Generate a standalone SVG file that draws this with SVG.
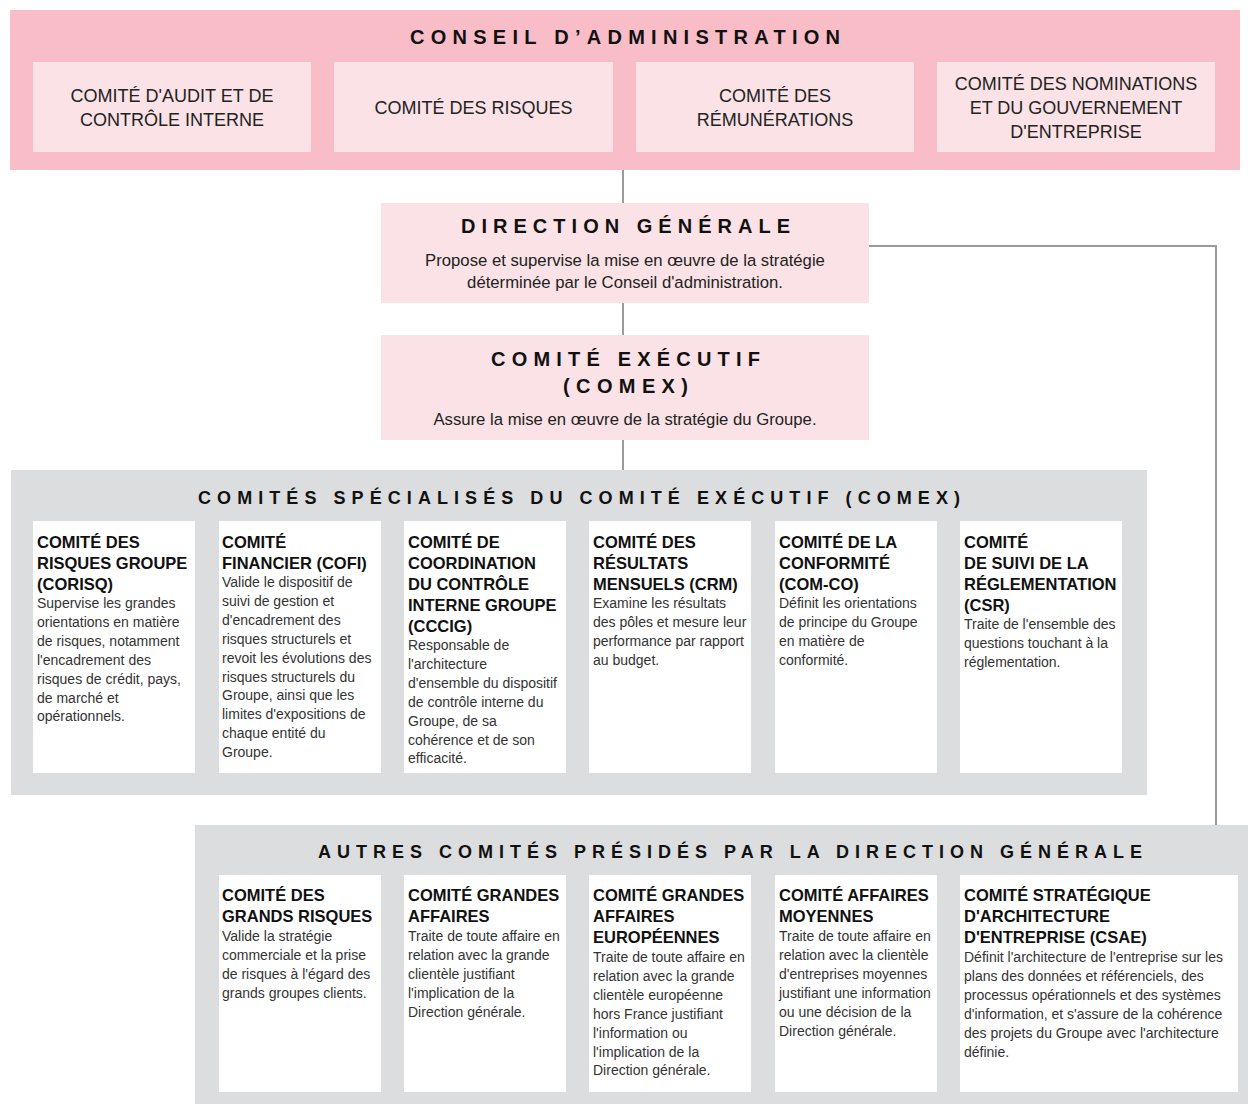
<svg xmlns="http://www.w3.org/2000/svg" width="1248" height="1104" viewBox="0 0 1248 1104">
<style>
text{font-family:"Liberation Sans",Arial,sans-serif;}
.band{fill:#F9BDC8;}
.sub{fill:#FAE2E6;}
.grey{fill:#DCDDDF;}
.card{fill:#FFFFFF;}
.big{font-size:20px;font-weight:bold;fill:#111;}
.sec{font-size:18px;font-weight:bold;fill:#111;}
.top{font-size:18px;fill:#222;text-anchor:middle;}
.desc{font-size:16.7px;fill:#222;text-anchor:middle;}
.ct{font-size:16.5px;font-weight:bold;fill:#111;}
.cb{font-size:14px;fill:#333;}
.conn{stroke:#9B9B9B;stroke-width:2;fill:none;}
</style>
<rect width="1248" height="1104" fill="#FFFFFF"/>

<g id="connectors">
<line class="conn" x1="623" y1="170" x2="623" y2="204"/>
<line class="conn" x1="623" y1="302" x2="623" y2="336"/>
<line class="conn" x1="623" y1="439" x2="623" y2="471"/>
<polyline class="conn" points="869,246 1216,246 1216,826"/>
</g>

<g id="conseil">
<rect class="band" x="10" y="10" width="1230" height="160"/>
<text class="big" x="410" y="44" textLength="430" lengthAdjust="spacing">CONSEIL D’ADMINISTRATION</text>
</g>
<g id="comite-audit">
<rect class="sub" x="33" y="62" width="278" height="90"/>
<text class="top" x="172" y="102">COMITÉ D'AUDIT ET DE<tspan x="172" dy="24">CONTRÔLE INTERNE</tspan></text>
</g>
<g id="comite-risques">
<rect class="sub" x="334" y="62" width="279" height="90"/>
<text class="top" x="473.5" y="114">COMITÉ DES RISQUES</text>
</g>
<g id="comite-remunerations">
<rect class="sub" x="636" y="62" width="278" height="90"/>
<text class="top" x="775" y="102">COMITÉ DES<tspan x="775" dy="24">RÉMUNÉRATIONS</tspan></text>
</g>
<g id="comite-nominations">
<rect class="sub" x="937" y="62" width="278" height="90"/>
<text class="top" x="1076" y="90">COMITÉ DES NOMINATIONS<tspan x="1076" dy="24">ET DU GOUVERNEMENT</tspan><tspan x="1076" dy="24">D'ENTREPRISE</tspan></text>
</g>

<g id="direction-generale">
<rect class="sub" x="381" y="203" width="488" height="100"/>
<text class="big" x="461" y="233" textLength="329" lengthAdjust="spacing">DIRECTION GÉNÉRALE</text>
<text class="desc" x="625" y="266">Propose et supervise la mise en œuvre de la stratégie<tspan x="625" dy="22">déterminée par le Conseil d'administration.</tspan></text>
</g>

<g id="comex">
<rect class="sub" x="381" y="335" width="488" height="105"/>
<text class="big" x="491" y="366" textLength="269" lengthAdjust="spacing">COMITÉ EXÉCUTIF</text>
<text class="big" x="563" y="393" textLength="125" lengthAdjust="spacing">(COMEX)</text>
<text class="desc" x="625" y="425">Assure la mise en œuvre de la stratégie du Groupe.</text>
</g>

<g id="comites-specialises">
<rect class="grey" x="11" y="470" width="1136" height="325"/>
<text class="sec" x="198" y="504" textLength="762" lengthAdjust="spacing">COMITÉS SPÉCIALISÉS DU COMITÉ EXÉCUTIF (COMEX)</text>
</g>
<g id="corisq">
<rect class="card" x="33" y="521" width="162" height="252"/>
<text class="ct" x="37" y="548">COMITÉ DES<tspan x="37" dy="21">RISQUES GROUPE</tspan><tspan x="37" dy="21">(CORISQ)</tspan></text>
<text class="cb" x="37" y="608">Supervise les grandes<tspan x="37" dy="18.9">orientations en matière</tspan><tspan x="37" dy="18.9">de risques, notamment</tspan><tspan x="37" dy="18.9">l'encadrement des</tspan><tspan x="37" dy="18.9">risques de crédit, pays,</tspan><tspan x="37" dy="18.9">de marché et</tspan><tspan x="37" dy="18.9">opérationnels.</tspan></text>
</g>
<g id="cofi">
<rect class="card" x="219" y="521" width="162" height="252"/>
<text class="ct" x="222" y="548">COMITÉ<tspan x="222" dy="21">FINANCIER (COFI)</tspan></text>
<text class="cb" x="222" y="587">Valide le dispositif de<tspan x="222" dy="18.9">suivi de gestion et</tspan><tspan x="222" dy="18.9">d'encadrement des</tspan><tspan x="222" dy="18.9">risques structurels et</tspan><tspan x="222" dy="18.9">revoit les évolutions des</tspan><tspan x="222" dy="18.9">risques structurels du</tspan><tspan x="222" dy="18.9">Groupe, ainsi que les</tspan><tspan x="222" dy="18.9">limites d'expositions de</tspan><tspan x="222" dy="18.9">chaque entité du</tspan><tspan x="222" dy="18.9">Groupe.</tspan></text>
</g>
<g id="cccig">
<rect class="card" x="404" y="521" width="162" height="252"/>
<text class="ct" x="408" y="548">COMITÉ DE<tspan x="408" dy="21">COORDINATION</tspan><tspan x="408" dy="21">DU CONTRÔLE</tspan><tspan x="408" dy="21">INTERNE GROUPE</tspan><tspan x="408" dy="21">(CCCIG)</tspan></text>
<text class="cb" x="408" y="650">Responsable de<tspan x="408" dy="18.9">l'architecture</tspan><tspan x="408" dy="18.9">d'ensemble du dispositif</tspan><tspan x="408" dy="18.9">de contrôle interne du</tspan><tspan x="408" dy="18.9">Groupe, de sa</tspan><tspan x="408" dy="18.9">cohérence et de son</tspan><tspan x="408" dy="18.9">efficacité.</tspan></text>
</g>
<g id="crm">
<rect class="card" x="589" y="521" width="162" height="252"/>
<text class="ct" x="593" y="548">COMITÉ DES<tspan x="593" dy="21">RÉSULTATS</tspan><tspan x="593" dy="21">MENSUELS (CRM)</tspan></text>
<text class="cb" x="593" y="608">Examine les résultats<tspan x="593" dy="18.9">des pôles et mesure leur</tspan><tspan x="593" dy="18.9">performance par rapport</tspan><tspan x="593" dy="18.9">au budget.</tspan></text>
</g>
<g id="com-co">
<rect class="card" x="775" y="521" width="162" height="252"/>
<text class="ct" x="779" y="548">COMITÉ DE LA<tspan x="779" dy="21">CONFORMITÉ</tspan><tspan x="779" dy="21">(COM-CO)</tspan></text>
<text class="cb" x="779" y="608">Définit les orientations<tspan x="779" dy="18.9">de principe du Groupe</tspan><tspan x="779" dy="18.9">en matière de</tspan><tspan x="779" dy="18.9">conformité.</tspan></text>
</g>
<g id="csr">
<rect class="card" x="960" y="521" width="162" height="252"/>
<text class="ct" x="964" y="548">COMITÉ<tspan x="964" dy="21">DE SUIVI DE LA</tspan><tspan x="964" dy="21">RÉGLEMENTATION</tspan><tspan x="964" dy="21">(CSR)</tspan></text>
<text class="cb" x="964" y="629">Traite de l'ensemble des<tspan x="964" dy="18.9">questions touchant à la</tspan><tspan x="964" dy="18.9">réglementation.</tspan></text>
</g>

<g id="autres-comites">
<rect class="grey" x="195" y="825" width="1053" height="279"/>
<text class="sec" x="318" y="858" textLength="824" lengthAdjust="spacing">AUTRES COMITÉS PRÉSIDÉS PAR LA DIRECTION GÉNÉRALE</text>
</g>
<g id="grands-risques">
<rect class="card" x="219" y="875" width="162" height="217"/>
<text class="ct" x="222" y="901">COMITÉ DES<tspan x="222" dy="21">GRANDS RISQUES</tspan></text>
<text class="cb" x="222" y="941">Valide la stratégie<tspan x="222" dy="18.9">commerciale et la prise</tspan><tspan x="222" dy="18.9">de risques à l'égard des</tspan><tspan x="222" dy="18.9">grands groupes clients.</tspan></text>
</g>
<g id="grandes-affaires">
<rect class="card" x="404" y="875" width="162" height="217"/>
<text class="ct" x="408" y="901">COMITÉ GRANDES<tspan x="408" dy="21">AFFAIRES</tspan></text>
<text class="cb" x="408" y="941">Traite de toute affaire en<tspan x="408" dy="18.9">relation avec la grande</tspan><tspan x="408" dy="18.9">clientèle justifiant</tspan><tspan x="408" dy="18.9">l'implication de la</tspan><tspan x="408" dy="18.9">Direction générale.</tspan></text>
</g>
<g id="grandes-affaires-europeennes">
<rect class="card" x="589" y="875" width="162" height="217"/>
<text class="ct" x="593" y="901">COMITÉ GRANDES<tspan x="593" dy="21">AFFAIRES</tspan><tspan x="593" dy="21">EUROPÉENNES</tspan></text>
<text class="cb" x="593" y="962">Traite de toute affaire en<tspan x="593" dy="18.9">relation avec la grande</tspan><tspan x="593" dy="18.9">clientèle européenne</tspan><tspan x="593" dy="18.9">hors France justifiant</tspan><tspan x="593" dy="18.9">l'information ou</tspan><tspan x="593" dy="18.9">l'implication de la</tspan><tspan x="593" dy="18.9">Direction générale.</tspan></text>
</g>
<g id="affaires-moyennes">
<rect class="card" x="775" y="875" width="162" height="217"/>
<text class="ct" x="779" y="901">COMITÉ AFFAIRES<tspan x="779" dy="21">MOYENNES</tspan></text>
<text class="cb" x="779" y="941">Traite de toute affaire en<tspan x="779" dy="18.9">relation avec la clientèle</tspan><tspan x="779" dy="18.9">d'entreprises moyennes</tspan><tspan x="779" dy="18.9">justifiant une information</tspan><tspan x="779" dy="18.9">ou une décision de la</tspan><tspan x="779" dy="18.9">Direction générale.</tspan></text>
</g>
<g id="csae">
<rect class="card" x="960" y="875" width="278" height="217"/>
<text class="ct" x="964" y="901">COMITÉ STRATÉGIQUE<tspan x="964" dy="21">D'ARCHITECTURE</tspan><tspan x="964" dy="21">D'ENTREPRISE (CSAE)</tspan></text>
<text class="cb" x="964" y="962">Définit l'architecture de l'entreprise sur les<tspan x="964" dy="18.9">plans des données et référenciels, des</tspan><tspan x="964" dy="18.9">processus opérationnels et des systèmes</tspan><tspan x="964" dy="18.9">d'information, et s'assure de la cohérence</tspan><tspan x="964" dy="18.9">des projets du Groupe avec l'architecture</tspan><tspan x="964" dy="18.9">définie.</tspan></text>
</g>
</svg>
